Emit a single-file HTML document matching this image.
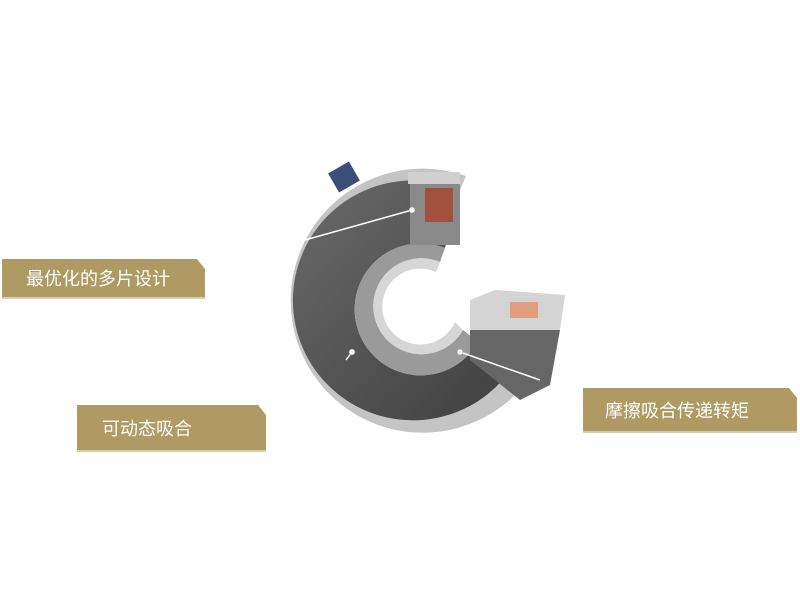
<!DOCTYPE html>
<html><head><meta charset="utf-8"><style>
body{margin:0;width:800px;height:598px;background:#fff;position:relative;overflow:hidden;font-family:"Liberation Sans","Noto Sans CJK SC",sans-serif}
.b{position:absolute;background:#ae9a62;color:#fff;font-size:18px;display:flex;align-items:center;clip-path:polygon(0 0,calc(100% - 8px) 0,100% 10px,100% 100%,0 100%);border-bottom:2px solid #d8ceb0}
</style></head><body>
<svg width="800" height="598" style="position:absolute;left:0;top:0">
<defs><linearGradient id="g" x1="0" y1="0" x2="1" y2="1"><stop offset="0" stop-color="#6a6a6a"/><stop offset="1" stop-color="#3e3e3e"/></linearGradient></defs>
<rect x="332" y="166" width="24" height="22" fill="#3e4d78" transform="rotate(-30 344 177)"/>
<path d="M 466 176 A132 132 0 1 0 535 370 L 517 360 A120 120 0 1 1 460 190 Z" fill="#c4c4c4"/>
<path d="M 460 190 A120 120 0 1 0 517 360 L 478 342 A66 66 0 1 1 445 248 Z" fill="url(#g)"/>
<path d="M 445 248 A66 66 0 1 0 478 342 L 463 330 A48 48 0 1 1 440 262 Z" fill="#9a9a9a"/>
<path d="M 440 262 A48 48 0 1 0 463 330 L 455 322 A38 38 0 1 1 436 272 Z" fill="#d6d6d6"/>
<rect x="410" y="175" width="50" height="70" fill="#8a8a8a"/>
<rect x="425" y="188" width="28" height="34" fill="#a0503c"/>
<rect x="408" y="172" width="52" height="12" fill="#d0d0d0"/>
<polygon points="470,300 495,290 565,295 560,330 470,330" fill="#d4d4d4"/>
<rect x="510" y="302" width="28" height="16" fill="#e0a080"/>
<polygon points="470,330 560,330 550,385 520,400 470,360" fill="#666"/>
<g stroke="#fff" stroke-width="1.5"><line x1="412" y1="210" x2="305" y2="240"/><line x1="352" y1="352" x2="346" y2="360"/><line x1="460" y1="352" x2="540" y2="380"/></g>
<g fill="#fff" stroke="#888" stroke-width="0.5"><circle cx="412" cy="210" r="3"/><circle cx="352" cy="352" r="3"/><circle cx="460" cy="352" r="3"/></g>
</svg>
<div class="b" style="left:2px;top:259px;width:203px;height:40px;padding-left:24px;box-sizing:border-box">最优化的多片设计</div>
<div class="b" style="left:77px;top:405px;width:189px;height:47px;padding-left:25px;box-sizing:border-box">可动态吸合</div>
<div class="b" style="left:583px;top:388px;width:214px;height:45px;padding-left:22px;box-sizing:border-box">摩擦吸合传递转矩</div>
</body></html>
